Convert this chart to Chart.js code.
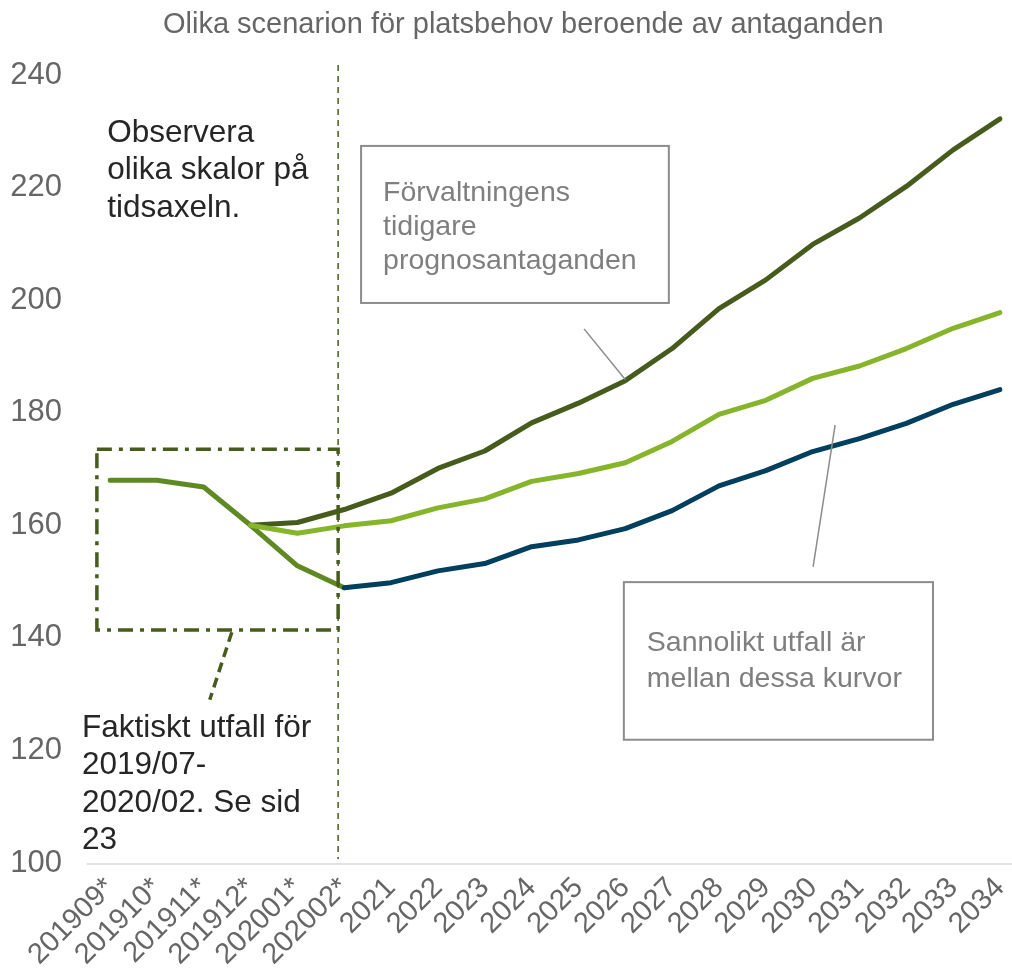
<!DOCTYPE html>
<html><head><meta charset="utf-8">
<script src="https://cdn.jsdelivr.net/npm/chart.js@4/dist/chart.umd.min.js"></script>
<style>html,body{margin:0;padding:0;background:#fff;overflow:hidden}#wrap{width:1012px;height:975px}</style>
</head><body><div id="wrap"><canvas id="c" width="1012" height="975"></canvas></div>
<script>
const categories = ['201909*','201910*','201911*','201912*','202001*','202002*','2021','2022','2023','2024','2025','2026','2027','2028','2029','2030','2031','2032','2033','2034'];
const observed = [168, 168, 166.8, 160, 152.8, 148.9, null, null, null, null, null, null, null, null, null, null, null, null, null, null];
const earlierAssumptions = [null, null, null, 160, 160.5, 162.8, 165.7, 170.1, 173.2, 178.2, 181.7, 185.7, 191.4, 198.5, 203.6, 209.9, 214.6, 220.2, 226.7, 232.2];
const upperScenario = [null, null, null, 160, 158.6, 159.9, 160.8, 163.1, 164.7, 167.8, 169.2, 171.1, 174.9, 179.7, 182.2, 186.1, 188.3, 191.4, 195.0, 197.8];
const lowerScenario = [null, null, null, null, null, 148.9, 149.8, 151.9, 153.2, 156.2, 157.4, 159.4, 162.6, 167.0, 169.7, 173.1, 175.4, 178.1, 181.5, 184.1];
const yTicks = [100, 120, 140, 160, 180, 200, 220, 240];
const titleText = 'Olika scenarion för platsbehov beroende av antaganden';

const FONT = "'Liberation Sans', Arial, sans-serif";
const OLIVE = '#465b1c';

const annotations = {
  id: 'annotations',
  afterDatasetsDraw(chart) {
    const ctx = chart.ctx, xs = chart.scales.x, ys = chart.scales.y, ca = chart.chartArea;
    const step = xs.getPixelForValue(1) - xs.getPixelForValue(0);
    const X = i => xs.getPixelForValue(0) + i * step;
    const Y = v => ys.getPixelForValue(v);
    ctx.save();
    // title
    ctx.fillStyle = '#666666'; ctx.font = '29px ' + FONT; ctx.textAlign = 'center'; ctx.textBaseline = 'middle';
    ctx.fillText(titleText, (X(-0.5) + chart.width) / 2 - 26, 25);
    // baseline
    ctx.strokeStyle = '#d9d9d9'; ctx.lineWidth = 1.5; ctx.setLineDash([]);
    ctx.beginPath(); ctx.moveTo(X(-0.5), ca.bottom + 1); ctx.lineTo(chart.width, ca.bottom + 1); ctx.stroke();
    // vertical dashed line
    ctx.strokeStyle = OLIVE; ctx.lineWidth = 1.5; ctx.setLineDash([6, 5]);
    ctx.beginPath(); ctx.moveTo(X(4.87), ca.top - 10); ctx.lineTo(X(4.87), ca.bottom - 4); ctx.stroke();
    // dash-dot rectangle
    ctx.lineWidth = 3.5; ctx.setLineDash([15, 7, 4, 7]);
    ctx.strokeRect(X(-0.28), Y(173.5), X(4.87) - X(-0.28), Y(141.4) - Y(173.5));
    // dashed leader
    ctx.setLineDash([10, 6]);
    ctx.beginPath(); ctx.moveTo(X(2.6), Y(141.0)); ctx.lineTo(X(2.13), Y(129.0)); ctx.stroke();
    // callout boxes
    ctx.setLineDash([]); ctx.strokeStyle = '#8c8c8c'; ctx.lineWidth = 2;
    ctx.strokeRect(X(5.36), Y(227.4), X(11.93) - X(5.36), Y(199.5) - Y(227.4));
    ctx.strokeRect(X(10.97), Y(149.9), X(17.57) - X(10.97), Y(121.9) - Y(149.9));
    ctx.lineWidth = 1.5;
    ctx.beginPath(); ctx.moveTo(X(10.12), Y(194.9)); ctx.lineTo(X(11.0), Y(185.9)); ctx.stroke();
    ctx.beginPath(); ctx.moveTo(X(15.48), Y(177.8)); ctx.lineTo(X(15.01), Y(152.6)); ctx.stroke();
    // texts
    ctx.textBaseline = 'middle'; ctx.textAlign = 'left';
    ctx.fillStyle = '#7f7f7f'; ctx.font = '28.5px ' + FONT;
    ['Förvaltningens', 'tidigare', 'prognosantaganden'].forEach((t, k) => ctx.fillText(t, X(5.36) + 22, Y(227.4) + 47 + k * 34));
    ['Sannolikt utfall är', 'mellan dessa kurvor'].forEach((t, k) => ctx.fillText(t, X(10.97) + 23, Y(149.9) + 61 + k * 36));
    ctx.fillStyle = '#262626'; ctx.font = '31.5px ' + FONT;
    ['Observera', 'olika skalor på', 'tidsaxeln.'].forEach((t, k) => ctx.fillText(t, X(-0.06), ca.top + 58 + k * 37.5));
    ['Faktiskt utfall för', '2019/07-', '2020/02. Se sid', '23'].forEach((t, k) => ctx.fillText(t, X(-0.6), ca.bottom - 135 + k * 37.5));
    ctx.restore();
  }
};

new Chart(document.getElementById('c'), {
  type: 'line',
  data: {
    labels: categories,
    datasets: [
      { label: 'Förvaltningens tidigare prognosantaganden', data: earlierAssumptions, borderColor: OLIVE, order: 1 },
      { label: 'Övre scenario', data: upperScenario, borderColor: '#86b42b', order: 0 },
      { label: 'Nedre scenario', data: lowerScenario, borderColor: '#003f5e', order: 2 },
      { label: 'Faktiskt utfall', data: observed, borderColor: '#5f8a23', order: 3 }
    ].map(d => Object.assign(d, { borderWidth: 5, pointRadius: 0, tension: 0, fill: false, borderCapStyle: 'round', borderJoinStyle: 'round', spanGaps: false }))
  },
  options: {
    responsive: false,
    animation: false,
    devicePixelRatio: 1,
    layout: { padding: { left: 0, right: 12, top: 75, bottom: 0 } },
    plugins: {
      legend: { display: false },
      tooltip: { enabled: false },
      title: { display: false }
    },
    scales: {
      x: {
        offset: false,
        grid: { display: false, drawTicks: false },
        border: { display: false },
        ticks: { color: '#666666', font: { family: FONT, size: 29 }, maxRotation: 45, minRotation: 45, autoSkip: false, padding: 8 },
        afterFit: s => { s.height = 112; s.paddingRight = 0; s.paddingLeft = 0; }
      },
      y: {
        min: 100, max: 240,
        afterBuildTicks: s => { s.ticks = yTicks.map(v => ({ value: v })); },
        grid: { display: false, drawTicks: false },
        border: { display: false },
        ticks: { color: '#666666', font: { family: FONT, size: 31 }, padding: 48 },
        afterFit: s => { s.width = 110; s.paddingTop = 0; s.paddingBottom = 0; }
      }
    }
  },
  plugins: [annotations]
});
</script>
</body></html>
